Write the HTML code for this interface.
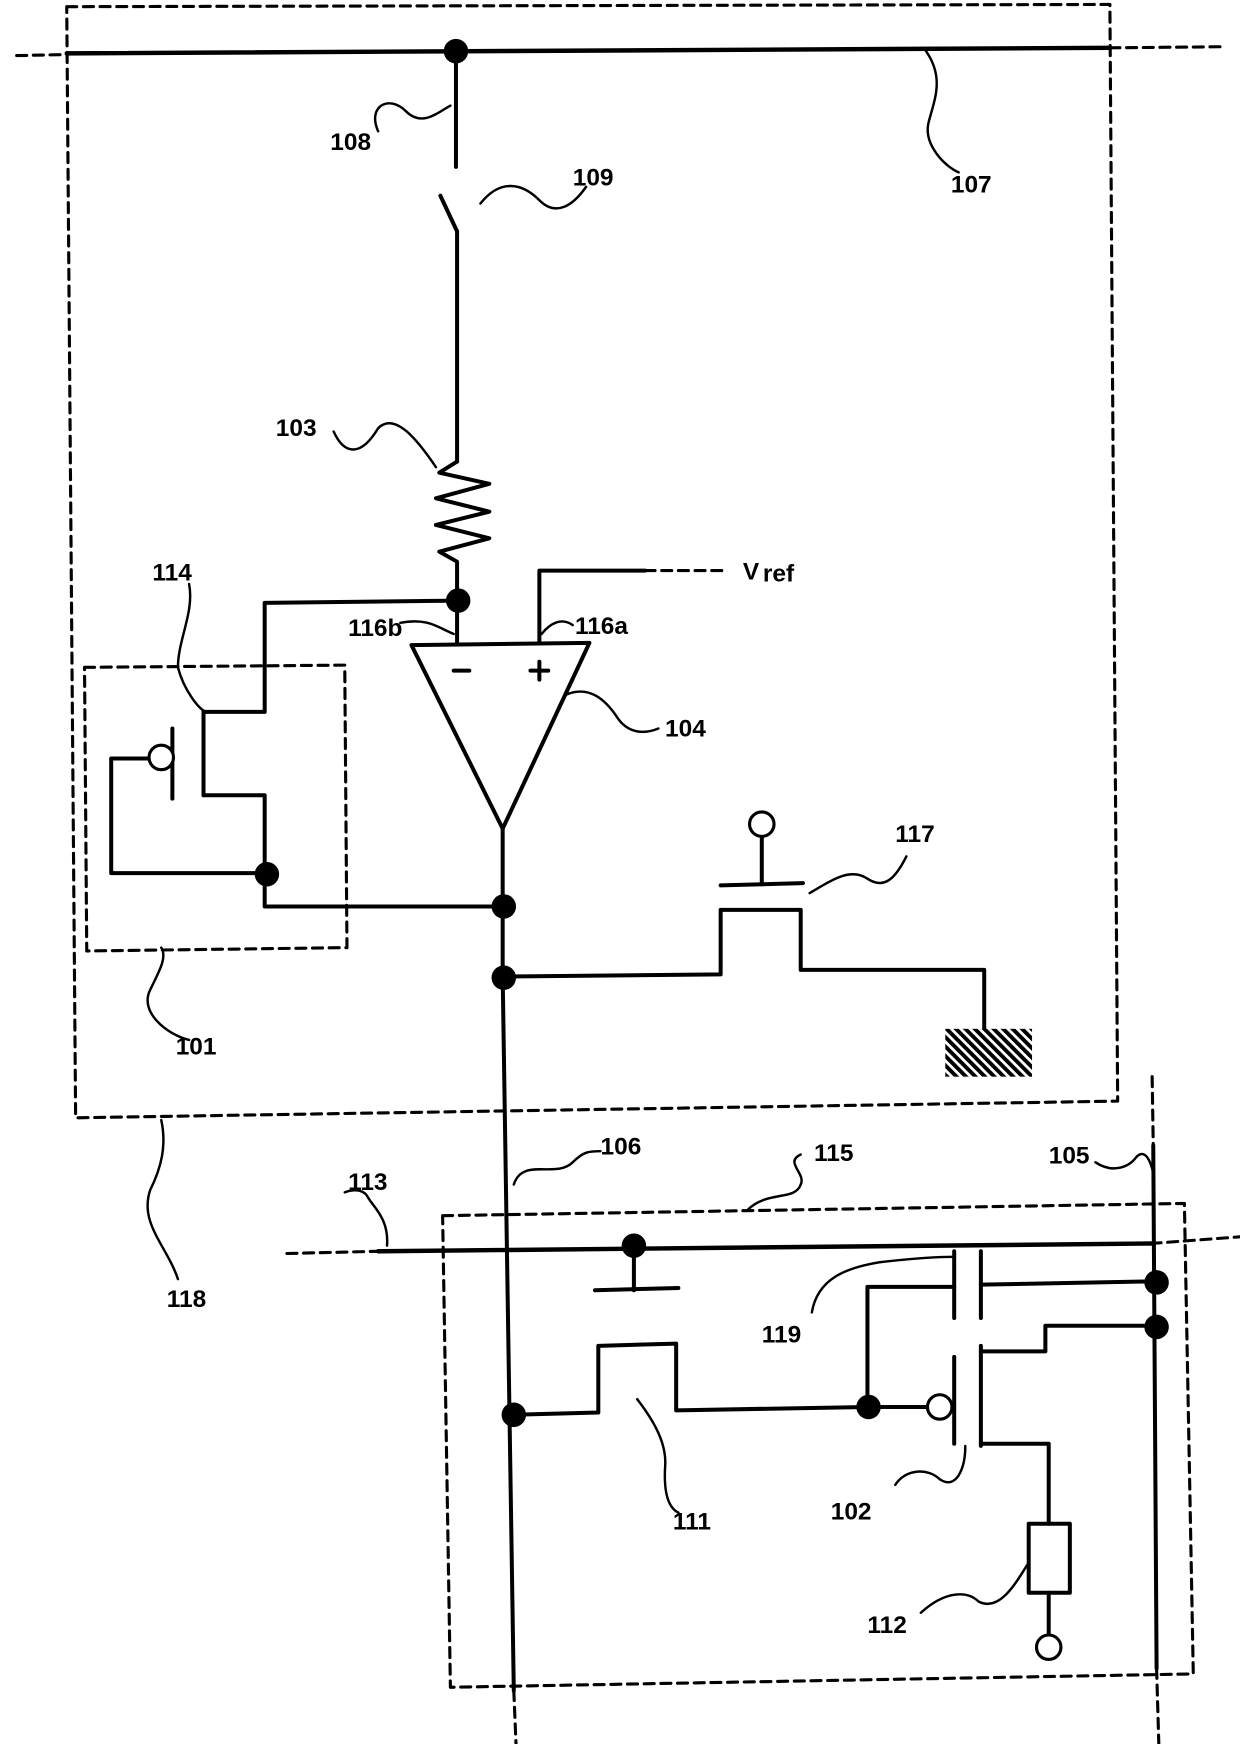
<!DOCTYPE html>
<html><head><meta charset="utf-8"><style>html,body{margin:0;padding:0;background:#fff}svg{display:block}text{font-family:"Liberation Sans",sans-serif;font-weight:bold;font-size:22px;fill:#000}</style></head><body>
<svg width="1240" height="1744" viewBox="0 0 1115 1568" preserveAspectRatio="none" xmlns="http://www.w3.org/2000/svg">
<g fill="none" stroke="#000" stroke-width="3.6" stroke-linecap="round" stroke-linejoin="round">
<g stroke-dasharray="9,6" stroke-width="2.8">
<path d="M60,6 L998,4 L1005,990 L68,1005 Z"/>
<path d="M76,600 L310,598 L312,852 L78,855 Z"/>
<path d="M398,1093 L1065,1082 L1073,1505 L405,1517 Z"/>
<path d="M15,50 L60,49"/><path d="M998,43 L1100,42"/>
<path d="M580,513 L655,513"/>
<path d="M258,1127 L340,1125"/><path d="M1035,1118 L1115,1112"/>
<path d="M1036,968 L1037,1030"/><path d="M1040,1500 L1042,1568"/>
<path d="M462,1520 L464,1568"/>
</g>
<path d="M60,48 L998,43" stroke-width="4"/>
<path d="M410,45 L410,150"/>
<path d="M396,176 L411,208"/>
<path d="M411,208 L411,415"/>
<path d="M411,415 L395,425 L440,435 L392,448 L440,460 L392,472 L440,484 L395,496 L411,505 L411,540"/>
<path d="M411,540 L238,542 L238,640 L183,640"/>
<path d="M183,640 L183,715"/><path d="M155,655 L155,718"/>
<path d="M133,682 L100,682 L100,785 L238,785"/>
<path d="M183,715 L238,715 L238,815 L452,815"/>
<path d="M370,580 L530,578 L452,745 Z"/>
<path d="M411,540 L411,578"/>
<path d="M485,578 L485,513 L580,513"/>
<path d="M408,603 L422,603"/>
<path d="M477,603 L493,603 M485,595 L485,611"/>
<path d="M452,745 L452,878 L462,1520"/>
<path d="M452,878 L648,876 L648,818 L720,818 L720,872 L885,872 L885,928"/>
<path d="M648,796 L722,794"/><path d="M685,795 L685,752"/>
<path d="M340,1125 L1035,1118" stroke-width="4"/>
<path d="M570,1120 L570,1160"/><path d="M535,1160 L610,1158"/>
<path d="M462,1272 L538,1270 L538,1210 L608,1208 L608,1268 L780,1265"/>
<path d="M780,1265 L834,1265"/>
<path d="M1037,1030 L1040,1500"/>
<path d="M780,1265 L780,1157 L858,1157"/><path d="M858,1125 L858,1185"/><path d="M882,1125 L882,1185"/>
<path d="M882,1155 L1040,1152"/>
<path d="M858,1220 L858,1298"/><path d="M882,1210 L882,1300"/>
<path d="M882,1215 L940,1215 L940,1192 L1040,1192"/>
<path d="M882,1298 L943,1298 L943,1370"/>
<rect x="925" y="1370" width="37" height="62"/>
<path d="M943,1432 L943,1470"/>
<g stroke-width="2.2">
<path d="M340,118 C330,95 350,85 365,100 C380,115 395,100 405,95"/>
<path d="M432,183 C450,160 470,165 485,180 C500,195 515,185 527,168"/>
<path d="M832,45 C850,70 840,90 835,110 C830,130 850,150 862,155"/>
<path d="M300,388 C310,410 325,410 340,385 C355,370 375,395 392,420"/>
<path d="M170,525 C175,550 160,575 160,600 C165,620 180,640 186,640"/>
<path d="M360,560 C385,555 395,565 408,570"/>
<path d="M487,570 C495,560 505,555 515,562"/>
<path d="M508,625 C530,615 545,630 555,645 C565,660 580,660 592,655"/>
<path d="M728,803 C750,790 765,780 780,790 C795,800 805,790 815,770"/>
<path d="M170,935 C150,930 125,910 135,890 C145,870 150,860 145,852"/>
<path d="M160,1150 C150,1120 125,1100 135,1070 C145,1050 150,1030 145,1007"/>
<path d="M462,1065 C470,1040 500,1060 515,1045 C525,1035 530,1035 540,1035"/>
<path d="M672,1088 C690,1070 715,1080 720,1065 C725,1055 705,1045 720,1038"/>
<path d="M985,1045 C1000,1055 1015,1050 1022,1040 C1030,1032 1035,1045 1037,1055"/>
<path d="M348,1120 C350,1095 335,1085 330,1075 C325,1068 315,1070 310,1072"/>
<path d="M730,1180 C735,1150 760,1140 790,1135 C815,1132 840,1130 858,1130"/>
<path d="M573,1258 C590,1280 600,1300 598,1320 C597,1340 600,1355 610,1360"/>
<path d="M805,1335 C815,1320 835,1320 845,1330 C860,1340 868,1320 868,1300"/>
<path d="M828,1450 C850,1430 870,1430 880,1440 C900,1450 915,1420 925,1405"/>
</g>
</g>
<defs><pattern id="h" width="6" height="6" patternUnits="userSpaceOnUse" patternTransform="rotate(-45)"><rect width="6" height="6" fill="#fff"/><rect width="3.5" height="6" fill="#000"/></pattern></defs>
<rect x="850" y="925" width="78" height="43" fill="url(#h)"/>
<g fill="#fff" stroke="#000" stroke-width="2.8">
<circle cx="145" cy="681" r="11"/><circle cx="685" cy="741" r="11"/>
<circle cx="845" cy="1265" r="11"/><circle cx="943" cy="1481" r="11"/>
</g>
<g fill="#000">
<circle cx="410" cy="46" r="11"/><circle cx="412" cy="540" r="11"/><circle cx="240" cy="786" r="11"/>
<circle cx="453" cy="815" r="11"/><circle cx="453" cy="879" r="11"/><circle cx="570" cy="1120" r="11"/>
<circle cx="462" cy="1272" r="11"/><circle cx="781" cy="1265" r="11"/><circle cx="1040" cy="1153" r="11"/><circle cx="1040" cy="1193" r="11"/>
</g>
<g>
<text x="297" y="135">108</text><text x="515" y="167">109</text><text x="855" y="173">107</text>
<text x="248" y="392">103</text><text x="137" y="522">114</text><text x="313" y="572">116b</text>
<text x="517" y="570">116a</text><text x="598" y="662">104</text><text x="805" y="757">117</text>
<text x="158" y="948">101</text><text x="150" y="1175">118</text><text x="540" y="1038">106</text>
<text x="732" y="1044">115</text><text x="943" y="1046">105</text><text x="313" y="1070">113</text>
<text x="685" y="1207">119</text><text x="605" y="1375">111</text><text x="747" y="1366">102</text>
<text x="780" y="1468">112</text>
<text x="668" y="521" font-size="24">V</text><text x="686" y="523" font-size="10">ref</text>
</g>
</svg>
</body></html>
